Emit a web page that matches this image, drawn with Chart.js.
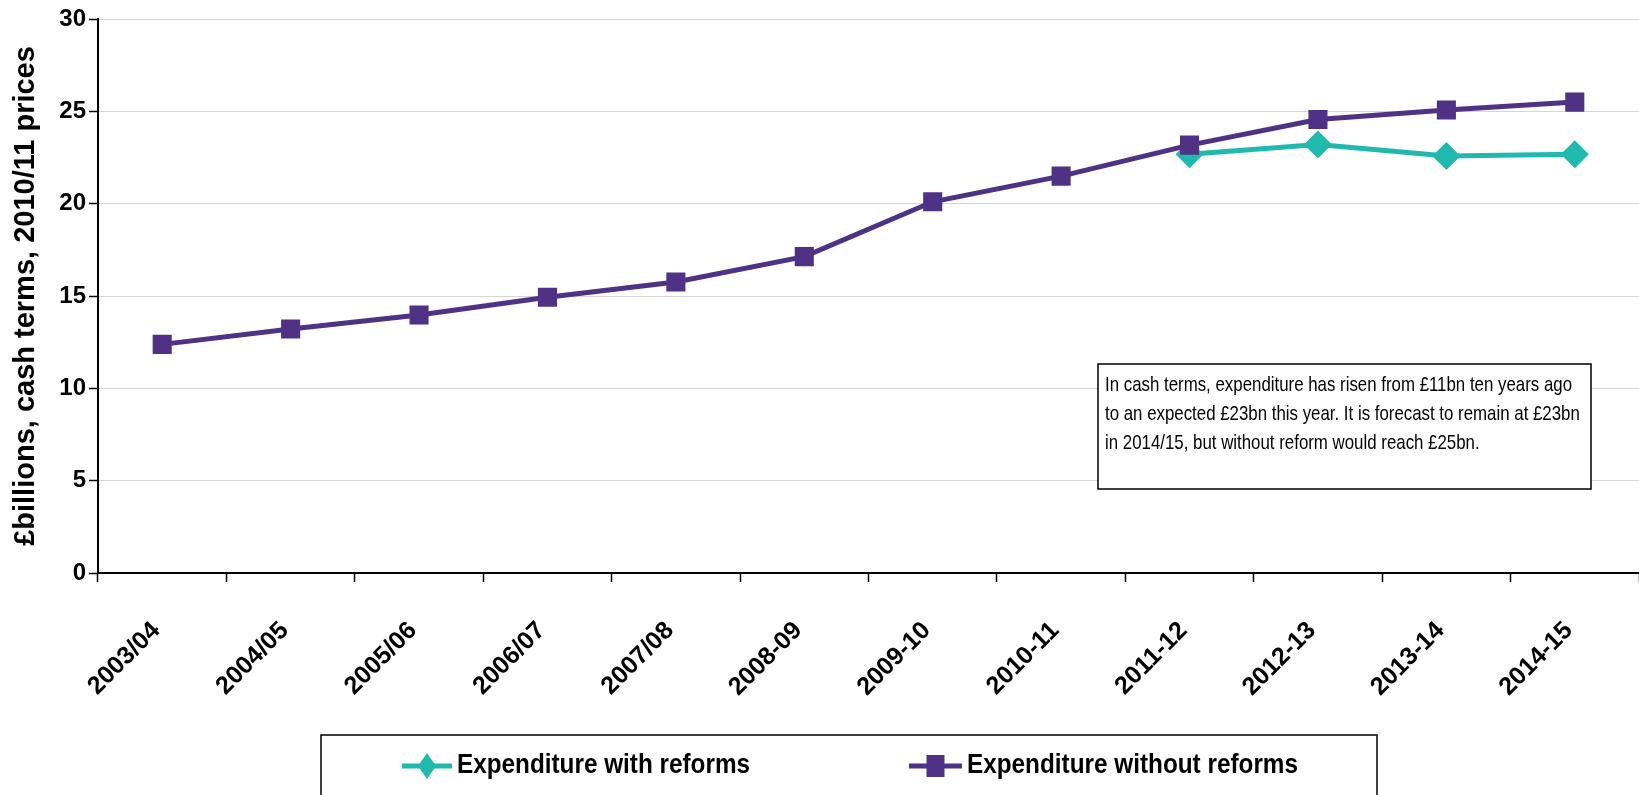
<!DOCTYPE html>
<html>
<head>
<meta charset="utf-8">
<script src="https://cdn.jsdelivr.net/npm/chart.js@4.4.1/dist/chart.umd.min.js"></script>
<style>
html,body{margin:0;padding:0;background:#fff;}
#wrap{position:relative;width:1639px;height:795px;}
</style>
</head>
<body>
<div id="wrap"><canvas id="c" width="1639" height="795"></canvas></div>
<script>
// ---- data ----
const categories = ['2003/04','2004/05','2005/06','2006/07','2007/08','2008-09','2009-10','2010-11','2011-12','2012-13','2013-14','2014-15'];
const withReforms = [null, null, null, null, null, null, null, null, 22.68, 23.21, 22.58, 22.67];
const withoutReforms = [12.38, 13.21, 13.97, 14.93, 15.76, 17.13, 20.10, 21.49, 23.17, 24.56, 25.07, 25.50];
const seriesNames = ['Expenditure with reforms', 'Expenditure without reforms'];
const yTicks = [0, 5, 10, 15, 20, 25, 30];
const yTitle = '£billions, cash terms, 2010/11 prices';
const noteLines = [
  'In cash terms, expenditure has risen from £11bn ten years ago',
  'to an expected £23bn this year. It is forecast to remain at £23bn',
  'in 2014/15, but without reform would reach £25bn.'
];

// ---- styles ----
const TEAL = '#20B9AD';
const PURPLE = '#4F3286';
const SANS = '"Liberation Sans", Arial, sans-serif';

// draw text condensed horizontally so that it spans targetWidth
function condensedText(ctx, text, x, y, targetWidth) {
  const w = ctx.measureText(text).width;
  const s = targetWidth / w;
  ctx.save();
  ctx.translate(x, y);
  ctx.scale(s, 1);
  ctx.fillText(text, 0, 0);
  ctx.restore();
}

const overlay = {
  id: 'overlay',
  afterDraw(chart) {
    const ctx = chart.ctx;
    ctx.save();
    // note box
    const bx = 1098, by = 364, bw = 493, bh = 125;
    ctx.fillStyle = '#fff';
    ctx.fillRect(bx, by, bw, bh);
    ctx.strokeStyle = '#000';
    ctx.lineWidth = 1.5;
    ctx.strokeRect(bx, by, bw, bh);
    ctx.fillStyle = '#000';
    ctx.font = '21px ' + SANS;
    ctx.textBaseline = 'alphabetic';
    ctx.textAlign = 'left';
    const w0 = ctx.measureText(noteLines[0]).width;
    const s = 467 / w0;
    noteLines.forEach((t, i) => condensedText(ctx, t, 1105, 391 + i * 29, ctx.measureText(t).width * s));

    // legend box
    ctx.strokeStyle = '#000';
    ctx.lineWidth = 1.5;
    ctx.strokeRect(321, 735, 1056, 80);
    const items = [
      {x0: 402, x1: 452, tx: 457, tw: 293, color: TEAL, style: 'diamond'},
      {x0: 909, x1: 962, tx: 967, tw: 331, color: PURPLE, style: 'square'}
    ];
    const ly = 766;
    items.forEach((it, i) => {
      ctx.strokeStyle = it.color;
      ctx.lineWidth = 5;
      ctx.beginPath();
      ctx.moveTo(it.x0, ly);
      ctx.lineTo(it.x1, ly);
      ctx.stroke();
      const cx = (it.x0 + it.x1) / 2;
      ctx.fillStyle = it.color;
      ctx.beginPath();
      if (it.style === 'diamond') {
        ctx.moveTo(cx, ly - 13); ctx.lineTo(cx + 9, ly); ctx.lineTo(cx, ly + 13); ctx.lineTo(cx - 9, ly);
      } else {
        ctx.rect(cx - 9, ly - 11, 18, 22);
      }
      ctx.closePath();
      ctx.fill();
      ctx.fillStyle = '#000';
      ctx.font = 'bold 27px ' + SANS;
      ctx.textBaseline = 'middle';
      condensedText(ctx, chart.data.datasets[i].label, it.tx, ly, it.tw);
    });
    ctx.restore();
  }
};

new Chart(document.getElementById('c'), {
  type: 'line',
  data: {
    labels: categories,
    datasets: [
      {
        label: seriesNames[0],
        data: withReforms,
        borderColor: TEAL,
        backgroundColor: TEAL,
        borderWidth: 5,
        pointStyle: 'rectRot',
        pointRadius: 14,
        pointBorderWidth: 0,
        pointBackgroundColor: TEAL,
        spanGaps: false,
        tension: 0,
        order: 2
      },
      {
        label: seriesNames[1],
        data: withoutReforms,
        borderColor: PURPLE,
        backgroundColor: PURPLE,
        borderWidth: 5,
        pointStyle: 'rect',
        pointRadius: 13.5,
        pointBorderWidth: 0,
        pointBackgroundColor: PURPLE,
        tension: 0,
        order: 1
      }
    ]
  },
  options: {
    responsive: false,
    animation: false,
    devicePixelRatio: 1,
    layout: {autoPadding: false, padding: {top: 19, right: 0, left: 0, bottom: 0}},
    plugins: {
      legend: {display: false},
      tooltip: {enabled: false},
      title: {display: false}
    },
    scales: {
      x: {
        type: 'category',
        offset: true,
        grid: {
          display: true,
          offset: true,
          drawOnChartArea: false,
          drawTicks: true,
          tickLength: 9,
          tickColor: '#000',
          tickWidth: 1.5
        },
        border: {display: true, color: '#000', width: 2},
        ticks: {
          color: '#000',
          font: {family: SANS, size: 25, weight: 'bold'},
          minRotation: 45,
          maxRotation: 45,
          padding: 34,
          labelOffset: -6,
          autoSkip: false
        },
        afterFit(scale) {
          scale.height = 795 - 573;
          scale.paddingLeft = 0;
          scale.paddingRight = 0;
        }
      },
      y: {
        min: 0,
        max: 30,
        afterBuildTicks(scale) { scale.ticks = yTicks.map(v => ({value: v})); },
        grid: {
          color: '#d6d6d6',
          lineWidth: 1,
          tickColor: '#000',
          tickLength: 9,
          tickWidth: 1.5,
          drawTicks: true
        },
        border: {display: true, color: '#000', width: 2},
        ticks: {
          color: '#000',
          font: {family: SANS, size: 24, weight: 'bold'},
          padding: 3
        },
        title: {
          display: true,
          text: yTitle,
          color: '#000',
          font: {family: SANS, size: 29, weight: 'bold'},
          padding: {top: 9, bottom: 0}
        },
        afterFit(scale) { scale.width = 98; }
      }
    }
  },
  plugins: [overlay]
});
</script>
</body>
</html>
